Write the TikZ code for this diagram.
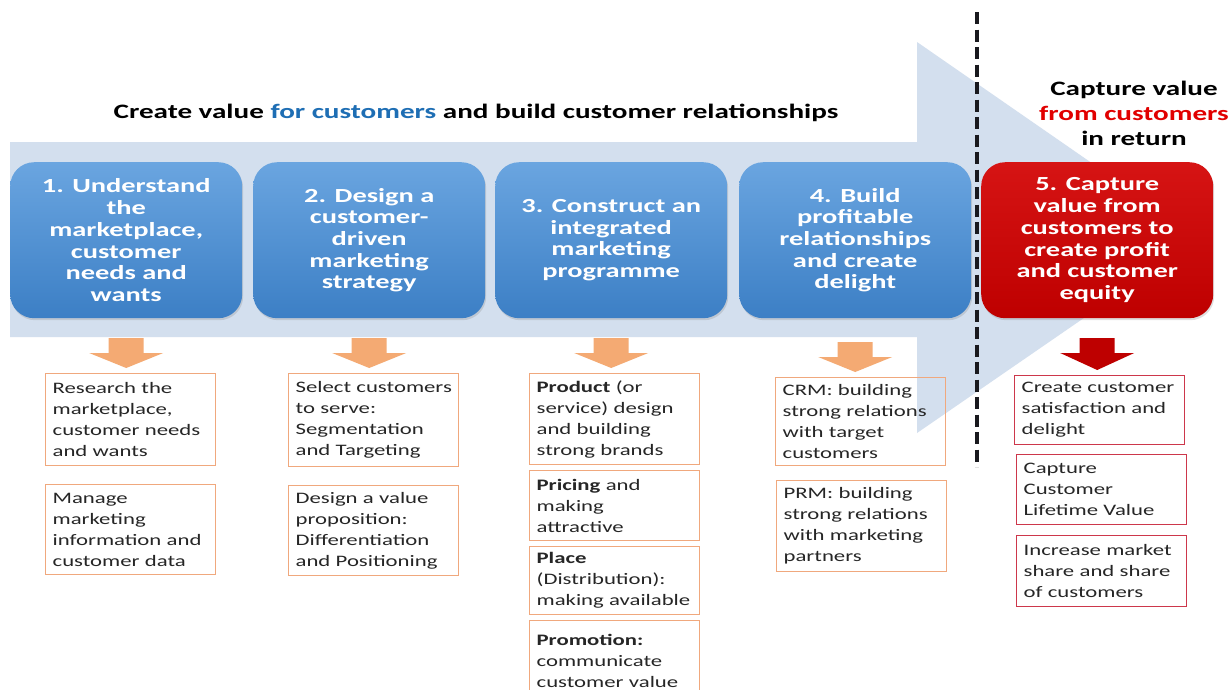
\documentclass[tikz,border=0pt]{standalone}
\usepackage{fontspec}
\setmainfont[FakeStretch=1.42]{Carlito}
\usetikzlibrary{calc,shadows}
\definecolor{band}{RGB}{211,223,238}
\definecolor{bluetop}{RGB}{106,165,224}
\definecolor{bluebot}{RGB}{60,127,197}
\definecolor{redtop}{RGB}{214,20,20}
\definecolor{redbot}{RGB}{190,0,0}
\definecolor{orangefill}{RGB}{244,170,115}
\definecolor{orangeline}{RGB}{240,168,125}
\definecolor{redline}{RGB}{205,55,75}
\definecolor{titleblue}{RGB}{30,110,180}
\definecolor{titlered}{RGB}{225,0,0}
\definecolor{dashcol}{RGB}{25,25,30}
\begin{document}
\begin{tikzpicture}[x=1pt,y=-1pt,
  stepbox/.style={rounded corners=24pt, minimum width=232pt, minimum height=156pt,
    anchor=north west, align=center, text=white,
    font=\fontsize{20}{21.7}\selectfont\bfseries,
    top color=bluetop, bottom color=bluebot, draw=none,
    drop shadow={opacity=0.25, shadow xshift=1pt, shadow yshift=-2pt}},
  redstep/.style={stepbox, top color=redtop, bottom color=redbot},
  detail/.style={draw=orangeline, line width=1.3pt, anchor=north west, align=left,
    text width=156pt, inner xsep=7pt, inner ysep=2pt, text=black!85,
    font=\fontsize{16}{21}\selectfont,
    execute at begin node={\hyphenpenalty=10000\relax\exhyphenpenalty=10000\relax}},
  reddetail/.style={detail, draw=redline},
  titletext/.style={font=\fontsize{20.5}{25}\selectfont\bfseries, text=black, align=center},
  oarrow/.style={fill=orangefill},
  rarrow/.style={fill=redbot},
  dashline/.style={draw=dashcol, line width=4pt, dash pattern=on 12pt off 5.5pt}
]
\useasboundingbox (0,0) rectangle (1231,689);
\fill[white] (0,0) rectangle (1231,689);

% big light arrow band
\fill[band] (10,142) -- (917,142) -- (917,42) -- (1200,238) -- (917,433) -- (917,337) -- (10,337) -- cycle;

% titles
\node[titletext] (t1) at (476,113) {Create value \textcolor{titleblue}{for customers} and build customer relationships};
\node[titletext] (t2) at (1134,113) {Capture value\\\textcolor{titlered}{from customers}\\in return};

% dashed separator
\draw[dashline] (977,12) -- (977,467);

% step boxes
\node[stepbox] (b1) at (10,162) {1. Understand\\the\\marketplace,\\customer\\needs and\\wants};
\node[stepbox] (b2) at (253,162) {2. Design a\\customer-\\driven\\marketing\\strategy};
\node[stepbox] (b3) at (495,162) {3. Construct an\\integrated\\marketing\\programme};
\node[stepbox] (b4) at (739,162) {4. Build\\profitable\\relationships\\and create\\delight};
\node[redstep] (b5) at (981,162) {5. Capture\\value from\\customers to\\create profit\\and customer\\equity};

% detail boxes
\node[detail, minimum height=92pt] (r1a) at (45,373) {Research~the\\marketplace,\\customer~needs\\and~wants};
\node[detail, minimum height=90pt] (r1b) at (45,484) {Manage\\marketing\\information~and\\customer~data};
\node[detail, minimum height=93pt] (r2a) at (288,373) {Select~customers\\to~serve:\\Segmentation\\and~Targeting};
\node[detail, minimum height=90pt] (r2b) at (288,485) {Design~a~value\\proposition:\\Differentiation\\and~Positioning};
\node[detail, minimum height=91pt] (r3a) at (529,373) {\textbf{Product}~(or\\service)~design\\and~building\\strong~brands};
\node[detail, minimum height=70pt] (r3b) at (529,470) {\textbf{Pricing}~and\\making\\attractive};
\node[detail, minimum height=68pt] (r3c) at (529,546) {\textbf{Place}\\(Distribution):\\making~available};
\node[detail, minimum height=80pt] (r3d) at (529,620) {\textbf{Promotion:}\\communicate\\customer~value};
\node[detail, minimum height=88pt] (r4a) at (775,377) {CRM:~building\\strong~relations\\with~target\\customers};
\node[detail, minimum height=91pt] (r4b) at (776,480) {PRM:~building\\strong~relations\\with~marketing\\partners};
\node[reddetail, minimum height=69pt] (r5a) at (1014,375) {Create~customer\\satisfaction~and\\delight};
\node[reddetail, minimum height=70pt] (r5b) at (1016,454) {Capture\\Customer\\Lifetime~Value};
\node[reddetail, minimum height=71pt] (r5c) at (1016,535) {Increase~market\\share~and~share\\of~customers};

% block arrows
\fill[oarrow] ($(b1.south |- r1a.north)+(0,-5)$) -- ++(-37,-15) -- ++(19.5,0) -- ++(0,-15) -- ++(35,0) -- ++(0,15) -- ++(19.5,0) -- cycle;
\fill[oarrow] ($(b2.south |- r2a.north)+(0,-5)$) -- ++(-37,-15) -- ++(19.5,0) -- ++(0,-15) -- ++(35,0) -- ++(0,15) -- ++(19.5,0) -- cycle;
\fill[oarrow] ($(b3.south |- r3a.north)+(0,-5)$) -- ++(-37,-15) -- ++(19.5,0) -- ++(0,-15) -- ++(35,0) -- ++(0,15) -- ++(19.5,0) -- cycle;
\fill[oarrow] ($(b4.south |- r4a.north)+(0,-5)$) -- ++(-37,-15) -- ++(19.5,0) -- ++(0,-15) -- ++(35,0) -- ++(0,15) -- ++(19.5,0) -- cycle;
\fill[rarrow] ($(b5.south |- r5a.north)+(0,-5)$) -- ++(-37,-17) -- ++(19.5,0) -- ++(0,-15) -- ++(35,0) -- ++(0,15) -- ++(19.5,0) -- cycle;
\end{tikzpicture}
\end{document}
